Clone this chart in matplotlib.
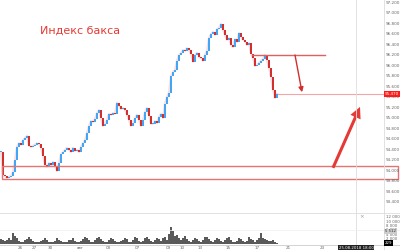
import matplotlib
matplotlib.use('Agg')
import matplotlib.pyplot as plt
from matplotlib.patches import Rectangle, FancyArrowPatch
import matplotlib.transforms as mtransforms

closes = [94.36, 93.92, 93.90, 93.87, 93.89, 93.90, 93.98, 94.21, 94.46, 94.53,
          94.50, 94.59, 94.63, 94.67, 94.48, 94.46, 94.48, 94.50, 94.53, 94.51,
          94.44, 94.29, 94.11, 94.08, 94.15, 94.11, 94.17, 94.10, 94.00, 94.15,
          94.32, 94.36, 94.40, 94.44, 94.40, 94.36, 94.44, 94.38, 94.40, 94.36,
          94.46, 94.53, 94.59, 94.72, 94.86, 94.95, 94.93, 94.99, 95.10, 95.16,
          95.01, 94.86, 94.90, 94.97, 95.09, 95.07, 95.10, 95.09, 95.30, 95.24,
          95.18, 95.20, 95.16, 95.07, 94.97, 94.86, 94.91, 95.01, 95.07, 94.97,
          94.86, 94.97, 95.12, 95.20, 95.05, 94.90, 94.90, 94.95, 94.91, 95.03,
          95.09, 95.01, 95.28, 95.41, 95.49, 95.81, 95.89, 95.92, 96.10, 96.21,
          96.25, 96.30, 96.29, 96.34, 96.30, 96.23, 96.08, 96.21, 96.25, 96.17,
          96.15, 96.10, 96.21, 96.29, 96.53, 96.61, 96.65, 96.59, 96.70, 96.72,
          96.80, 96.69, 96.59, 96.50, 96.53, 96.40, 96.36, 96.51, 96.46, 96.63,
          96.55, 96.50, 96.46, 96.40, 96.44, 96.23, 96.15, 96.00, 96.02, 96.06,
          96.10, 96.13, 96.21, 96.11, 95.96, 95.79, 95.54, 95.39, 95.47]

volumes = [2200, 1500, 1200, 1800, 2400, 1400, 4800, 3600, 2600, 1200,
           900, 800, 1600, 2200, 2800, 1900, 1100, 700, 600, 900,
           1300, 1600, 2500, 1800, 900, 500, 700, 1200, 2300, 1700,
           1000, 600, 500, 900, 1800, 1400, 2600, 1100, 700, 600,
           1200, 2100, 3000, 2600, 1500, 900, 800, 1400, 2700, 3200,
           2100, 1200, 700, 900, 1700, 2600, 2200, 1300, 800, 600,
           1000, 1800, 2400, 1900, 900, 700, 1500, 2800, 2300, 1200,
           800, 1300, 2600, 3100, 2000, 1100, 900, 1700, 2500, 2100,
           1300, 2400, 3000, 1800, 4200, 7800, 5600, 3400, 3900, 2600,
           1500, 2600, 3300, 2200, 1200, 700, 1500, 2700, 2000, 1100,
           800, 1700, 2900, 3200, 2100, 1300, 900, 1600, 2500, 2200,
           1200, 700, 1400, 2600, 3000, 1700, 900, 600, 1200, 2400,
           2000, 1100, 700, 1300, 2800, 2000, 1500, 900, 1600, 2700,
           4600, 2500, 2000, 1600, 1300, 1000, 1400, 800, 229]

price_tick_values = [97.2, 97.0, 96.8, 96.6, 96.4, 96.2, 96.0, 95.8, 95.6, 95.4,
                     95.2, 95.0, 94.8, 94.6, 94.4, 94.2, 94.0, 93.8, 93.6, 93.4]
price_tick_labels = ["97.200", "97.000", "96.800", "96.600", "96.400", "96.200",
                     "96.000", "95.800", "95.600", "95.400", "95.200", "95.000",
                     "94.800", "94.600", "94.400", "94.200", "94.000", "93.800",
                     "93.600", "93.400"]
vol_tick_values = [12000, 10000, 8000, 6000, 4000, 2000]
vol_tick_labels = ["12 000", "10 000", "8 000", "6 000", "4 000", "2 000"]
date_labels = ["26", "27", "30", "авг", "03", "07", "09", "10", "13", "15", "17", "21", "23"]
date_positions = [9.5, 16.5, 24.5, 39.5, 53.5, 68, 83.5, 90.5, 99.5, 113.5, 128, 143.5, 160.5]

title_text = "Индекс бакса"
res_level = 96.21
support_low, support_high = 93.85, 94.10
last_price = closes[-1]

UP = '#42a5f5'
DOWN = '#d32f2f'
RED = '#e53935'

fig = plt.figure(figsize=(4, 2.5), dpi=100)
fig.patch.set_facecolor('white')

ax = fig.add_axes([0, 0.16, 0.96, 0.84])
vax = fig.add_axes([0, 0.026, 0.96, 0.122])
for a in (ax, vax):
    a.set_facecolor('none')
    for s in a.spines.values():
        s.set_visible(False)
    a.set_xticks([])
    a.set_yticks([])
    a.set_xlim(-0.5, 191.5)

ax.set_ylim(93.257, 97.257)
vax.set_ylim(0, 14000)

idx = list(range(len(closes)))
opens = [closes[0]] + closes[:-1]
bottoms = [min(o, c) for o, c in zip(opens, closes)]
heights = [max(abs(c - o), 0.012) for o, c in zip(opens, closes)]
colors = [UP if c >= o else DOWN for o, c in zip(opens, closes)]
ax.plot(idx, closes, color='#f0c8cc', lw=1.6, alpha=0.6, zorder=2, solid_joinstyle='round')
ax.bar(idx, heights, bottom=bottoms, width=0.65, color=colors, linewidth=0, zorder=3)

# volume
vax.bar(idx, volumes, width=0.6, color='#5a5a5a', linewidth=0)

# title
ax.text(19.5, 96.67, title_text, color=RED, fontsize=8, ha='left', va='center')

# resistance line and small arrow
ax.plot([125.5, 162], [res_level, res_level], color='#e06060', lw=1.0, zorder=4)
ax.annotate('', xy=(150.5, 95.50), xytext=(147, res_level),
            arrowprops=dict(arrowstyle='-|>', mutation_scale=7, lw=1.0, color=DOWN,
                            shrinkA=0, shrinkB=0), zorder=5)
# current price line
ax.plot([138.5, 191.5], [last_price, last_price], color='#f4a5a5', lw=0.8, zorder=2)

# support box
ax.add_patch(Rectangle((0.5, support_low), 198, support_high - support_low,
                       fill=False, edgecolor='#e57373', lw=1.0, clip_on=False, zorder=4))

# big arrow
ax.annotate('', xy=(179.5, 95.22), xytext=(166, 94.06),
            arrowprops=dict(width=2.2, headwidth=8, headlength=8, color=RED, lw=0,
                            shrink=0), zorder=5)

# price axis labels
ytrans = mtransforms.blended_transform_factory(fig.transFigure, ax.transData)
for v, lab in zip(price_tick_values, price_tick_labels):
    fig.text(0.965, v, lab, transform=ytrans, fontsize=3, color='#666666',
             ha='left', va='center')
fig.text(0.962, last_price, "95.470", transform=ytrans, fontsize=3, color='white',
         ha='left', va='center',
         bbox=dict(boxstyle='square,pad=0.25', fc='#ff1a1a', ec='none'))

vtrans = mtransforms.blended_transform_factory(fig.transFigure, vax.transData)
for v, lab in zip(vol_tick_values, vol_tick_labels):
    fig.text(0.965, v, lab, transform=vtrans, fontsize=2.8, color='#666666',
             ha='left', va='center')
fig.text(0.962, 5512, "5 512", transform=vtrans, fontsize=2.8, color='#333333',
         ha='left', va='center', bbox=dict(boxstyle='square,pad=0.2', fc='#cccccc', ec='none'))
fig.text(0.962, 229, "229", transform=vtrans, fontsize=2.8, color='white',
         ha='left', va='center', bbox=dict(boxstyle='square,pad=0.2', fc='black', ec='none'))

# separators
fig.add_artist(plt.Line2D([0.96, 0.96], [0, 1], transform=fig.transFigure, color='#dddddd', lw=0.6))
fig.add_artist(plt.Line2D([0.89, 0.89], [0.02, 1], transform=fig.transFigure, color='#dddddd', lw=0.6))
fig.add_artist(plt.Line2D([0, 1], [0.148, 0.148], transform=fig.transFigure, color='#dddddd', lw=0.6))
fig.add_artist(plt.Line2D([0, 1], [0.08, 0.08], transform=fig.transFigure, color='#eeeeee', lw=0.5))
fig.add_artist(plt.Line2D([0, 1], [0.02, 0.02], transform=fig.transFigure, color='#cccccc', lw=0.6))
fig.text(0.905, 0.135, "×", fontsize=4, color='#999999', ha='center', va='center')

# time axis labels
xtrans = mtransforms.blended_transform_factory(ax.transData, fig.transFigure)
for p, lab in zip(date_positions, date_labels):
    fig.text(p, 0.008, lab, transform=xtrans, fontsize=3, color='#666666',
             ha='center', va='center')
fig.text(0.89, 0.008, "25.08.2018 18:00", fontsize=2.8, color='white', ha='center',
         va='center', bbox=dict(boxstyle='square,pad=0.25', fc='#222222', ec='none'))

fig.savefig('out.png', dpi=100, facecolor='white')
